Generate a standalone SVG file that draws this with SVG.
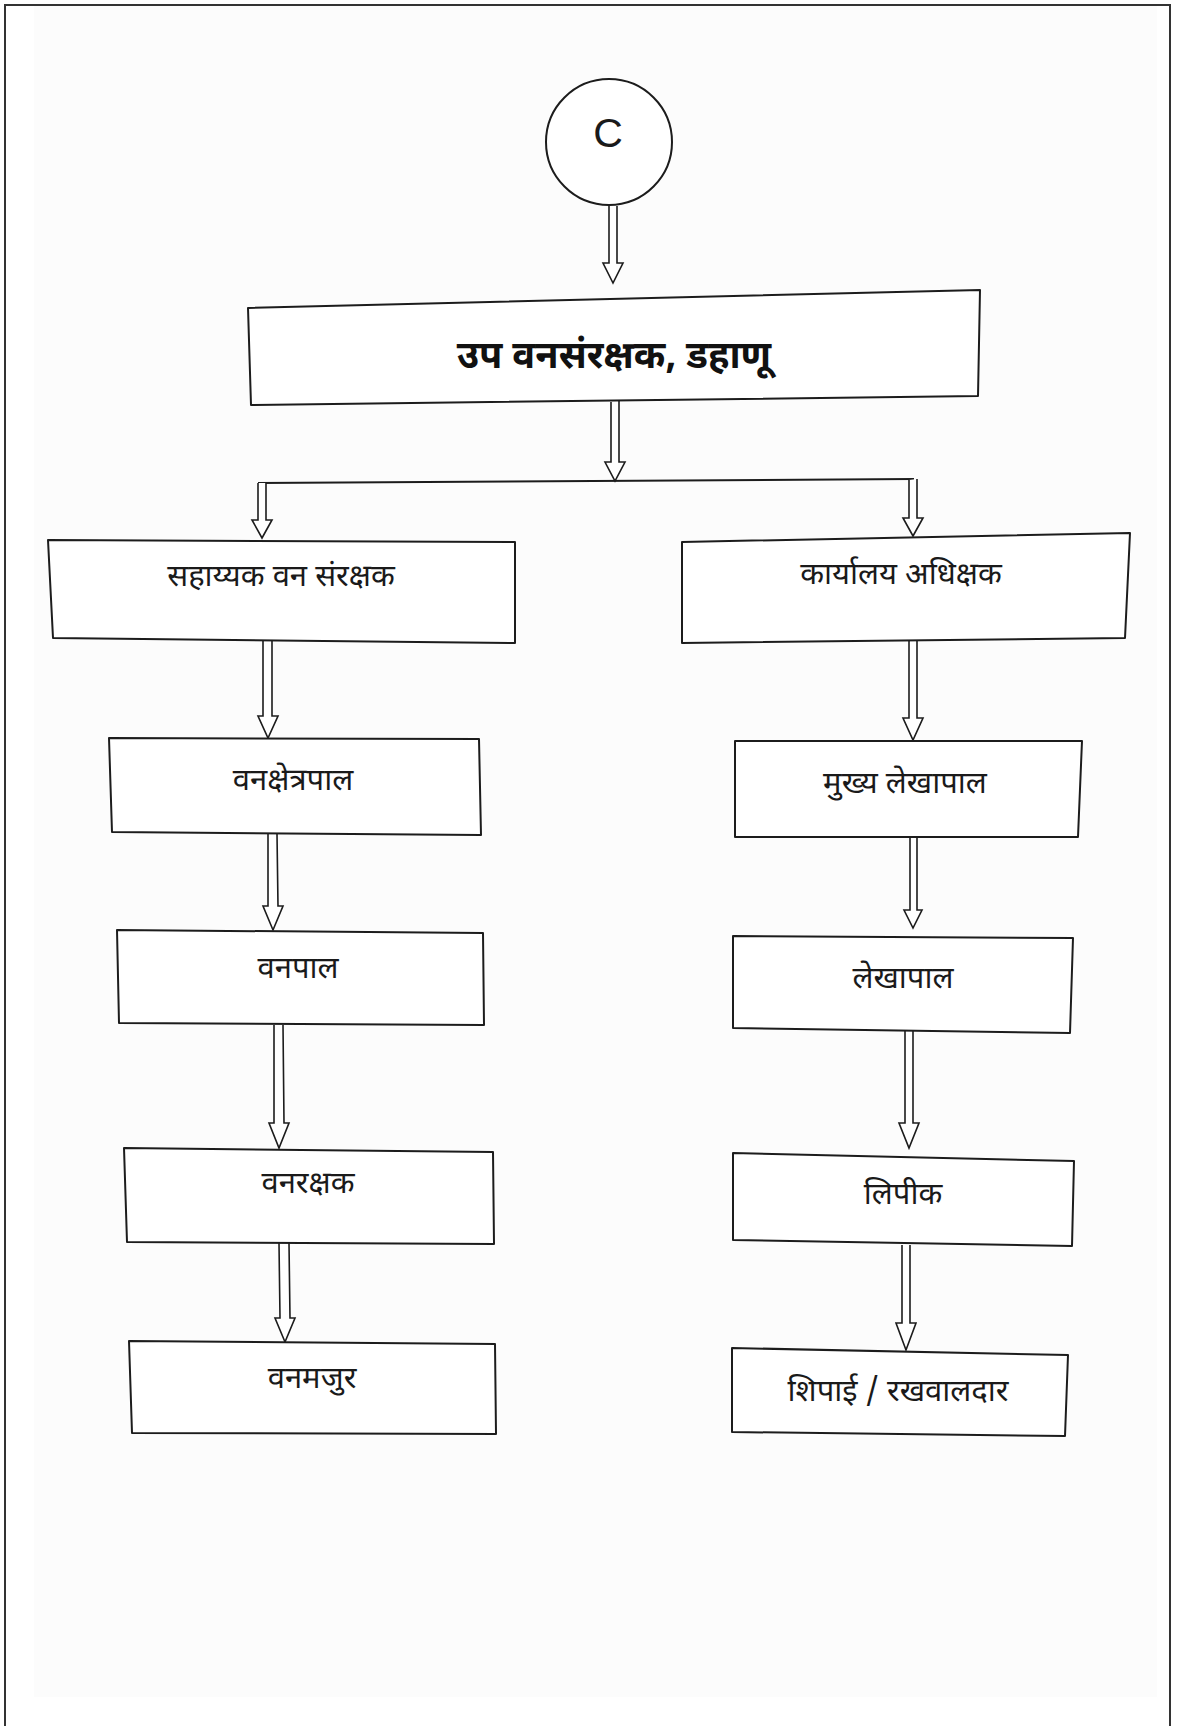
<svg xmlns="http://www.w3.org/2000/svg" width="1178" height="1726" viewBox="0 0 1178 1726">
  <style>
    .box { fill: #ffffff; stroke: #1c1c1c; stroke-width: 2; stroke-linejoin: round; }
    .arrow { fill: #ffffff; stroke: #1c1c1c; stroke-width: 1.6; stroke-linejoin: miter; }
    .line { fill: none; stroke: #1c1c1c; stroke-width: 2; }
    .lbl { font-family: "Noto Sans Devanagari", "Lohit Devanagari", "Noto Sans", "DejaVu Sans", sans-serif; font-size: 31px; fill: #1a1a1a; text-anchor: middle; }
    .title { font-family: "Noto Sans Devanagari", "Lohit Devanagari", "Noto Sans", "DejaVu Sans", sans-serif; font-size: 38px; font-weight: bold; fill: #111; text-anchor: middle; }
  </style>
  <rect x="0" y="0" width="1178" height="1726" fill="#ffffff"/>
  <rect x="34" y="6" width="1123" height="1691" fill="#fcfcfc"/>
  <g id="frame" fill="none" stroke="#333" stroke-width="2">
    <polyline points="5,1726 5,5 1170,5 1170,1726"/>
  </g>

  <g id="connectors">
    <!-- C to top box -->
    <path class="arrow" d="M609,206 L609,263 L603,263 L613,283 L623,263 L617,263 L617,206"/>
    <!-- top box to bus -->
    <path class="arrow" d="M611,402 L611,462 L605,462 L615,481 L625,462 L619,462 L619,400"/>
    <!-- bus -->
    <path class="line" d="M258,483 L914,479"/>
    <!-- left branch -->
    <path class="arrow" d="M258,483 L258,520 L252,520 L262,538 L272,520 L266,520 L266,483"/>
    <!-- right branch -->
    <path class="arrow" d="M909,480 L909,518 L903,518 L913,536 L923,518 L917,518 L917,479"/>
    <!-- left chain -->
    <path class="arrow" d="M263,641 L263,716 L258,716 L268,738 L278,716 L272,716 L272,641"/>
    <path class="arrow" d="M268,834 L268,906 L263,906 L273,930 L283,906 L278,906 L277,834"/>
    <path class="arrow" d="M274,1025 L274,1123 L269,1123 L279,1148 L289,1123 L284,1123 L283,1025"/>
    <path class="arrow" d="M279,1243 L280,1318 L275,1318 L285,1342 L295,1318 L290,1318 L289,1243"/>
    <!-- right chain -->
    <path class="arrow" d="M909,641 L909,718 L903,718 L913,740 L923,718 L917,718 L917,641"/>
    <path class="arrow" d="M910,837 L910,910 L904,910 L913,928 L922,910 L917,910 L917,837"/>
    <path class="arrow" d="M905,1031 L905,1123 L899,1123 L909,1148 L919,1123 L913,1123 L913,1031"/>
    <path class="arrow" d="M902,1245 L902,1323 L896,1323 L906,1350 L916,1323 L910,1323 L910,1245"/>
  </g>

  <g id="node-c">
    <circle cx="609" cy="142" r="63" fill="#ffffff" stroke="#1c1c1c" stroke-width="2"/>
    <text x="608" y="147" font-family="Liberation Sans, Arial, sans-serif" font-size="41" fill="#1a1a1a" text-anchor="middle">C</text>
  </g>

  <g id="node-dcf">
    <polygon class="box" points="248,308 980,290 978,396 251,405"/>
    <text class="title" x="614" y="368">उप वनसंरक्षक, डहाणू</text>
  </g>

  <g id="node-acf">
    <polygon class="box" points="48,540 515,542 515,643 53,638"/>
    <text class="lbl" x="281" y="586">सहाय्यक वन संरक्षक</text>
  </g>
  <g id="node-os">
    <polygon class="box" points="682,542 1130,533 1125,638 682,643"/>
    <text class="lbl" x="901" y="584">कार्यालय अधिक्षक</text>
  </g>

  <g id="node-rfo">
    <polygon class="box" points="109,738 479,739 481,835 112,832"/>
    <text class="lbl" x="293" y="790">वनक्षेत्रपाल</text>
  </g>
  <g id="node-forester">
    <polygon class="box" points="117,930 483,933 484,1025 119,1023"/>
    <text class="lbl" x="298" y="978">वनपाल</text>
  </g>
  <g id="node-guard">
    <polygon class="box" points="124,1148 493,1152 494,1244 127,1242"/>
    <text class="lbl" x="308" y="1193">वनरक्षक</text>
  </g>
  <g id="node-labourer">
    <polygon class="box" points="129,1341 495,1344 496,1434 132,1433"/>
    <text class="lbl" x="312" y="1388">वनमजुर</text>
  </g>

  <g id="node-chief-accountant">
    <polygon class="box" points="735,741 1082,741 1078,837 735,837"/>
    <text class="lbl" x="905" y="793">मुख्य लेखापाल</text>
  </g>
  <g id="node-accountant">
    <polygon class="box" points="733,936 1073,938 1070,1033 733,1028"/>
    <text class="lbl" x="903" y="988">लेखापाल</text>
  </g>
  <g id="node-clerk">
    <polygon class="box" points="733,1153 1074,1161 1072,1246 733,1240"/>
    <text class="lbl" x="903" y="1204">लिपीक</text>
  </g>
  <g id="node-peon">
    <polygon class="box" points="732,1348 1068,1355 1065,1436 732,1432"/>
    <text class="lbl" x="898" y="1401">शिपाई / रखवालदार</text>
  </g>
</svg>
